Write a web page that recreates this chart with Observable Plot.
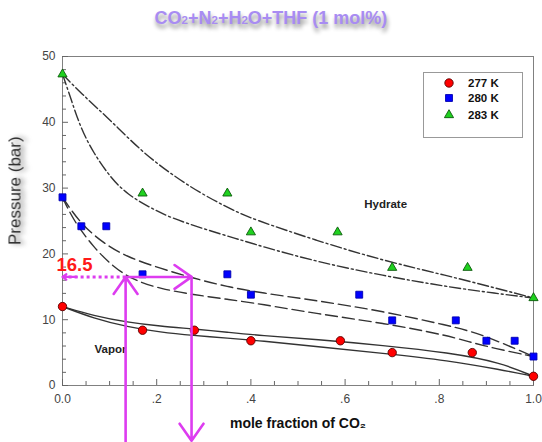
<!DOCTYPE html>
<html><head><meta charset="utf-8">
<script src="https://cdn.jsdelivr.net/npm/d3@7"></script>
<script src="https://cdn.jsdelivr.net/npm/@observablehq/plot@0.6"></script>
<style>
body{margin:0;background:#fff;font-family:"Liberation Sans",Arial,sans-serif;}
#wrap{position:relative;width:542px;height:442px;overflow:hidden;}
#chart{position:absolute;left:0;top:0;}
#title{position:absolute;left:0;top:8px;width:542px;text-align:center;font-weight:bold;font-size:18px;color:#a88cf2;text-shadow:1px 4px 4px rgba(0,0,0,0.45);}
#title sub{font-size:11.5px;vertical-align:baseline;}
#legend{position:absolute;left:423px;top:72px;width:98px;height:64px;border:1px solid #999;background:#fff;}
.lrow{position:absolute;left:0;height:14px;font-weight:bold;font-size:11.5px;color:#111;}
.lrow svg{position:absolute;left:18px;top:0;}
.lrow span{position:absolute;left:44px;top:0;line-height:14px;white-space:nowrap;}
</style>
</head><body>
<div id="wrap"><div id="chart"></div>
<div id="title">CO<sub>2</sub>+N<sub>2</sub>+H<sub>2</sub>O+THF (1 mol%)</div>
<div id="legend"></div></div>
<script>
// ---- data ----
const temps = ["277 K", "280 K", "283 K"];
const x277 = [0, 0.17, 0.28, 0.40, 0.59, 0.70, 0.87, 1.0];
const p277 = [12.0, 8.4, 8.4, 6.8, 6.8, 5.0, 5.0, 1.4];
const x280 = [0, 0.04, 0.093, 0.17, 0.35, 0.40, 0.63, 0.70, 0.835, 0.90, 0.96, 1.0];
const p280 = [28.6, 24.2, 24.2, 16.9, 16.9, 13.8, 13.8, 9.9, 9.9, 6.8, 6.8, 4.4];
const x283 = [0, 0.17, 0.35, 0.40, 0.584, 0.70, 0.86, 1.0];
const p283 = [47.3, 29.2, 29.2, 23.3, 23.3, 17.9, 17.9, 13.3];

// model curves
const c283aX = [0, 0.038, 0.102, 0.166, 0.229, 0.293, 0.363, 0.40, 0.54, 0.68, 0.817, 0.92, 1.0];
const c283aP = [47.3, 44.5, 40.3, 35.7, 32.2, 29.2, 26.6, 25.4, 22.0, 19.0, 16.7, 14.8, 13.3];
const c283bX = [0, 0.017, 0.038, 0.066, 0.102, 0.138, 0.187, 0.229, 0.30, 0.37, 0.42, 0.54, 0.68, 0.817, 0.92, 1.0];
const c283bP = [47.3, 43.8, 39.2, 35.3, 31.6, 29.0, 27.0, 25.5, 23.8, 22.3, 21.2, 18.8, 16.7, 15.0, 14.0, 13.3];
const c280aX = [0, 0.038, 0.087, 0.138, 0.208, 0.278, 0.35, 0.42, 0.54, 0.68, 0.82, 0.887, 1.0];
const c280aP = [28.6, 24.6, 21.6, 19.5, 17.8, 16.3, 15.0, 14.1, 12.9, 11.3, 9.1, 7.9, 4.4];
const c280bX = [0, 0.023, 0.066, 0.108, 0.151, 0.208, 0.278, 0.35, 0.42, 0.54, 0.68, 0.82, 0.887, 1.0];
const c280bP = [28.6, 25.1, 21.0, 18.0, 16.0, 14.7, 13.8, 13.1, 12.4, 10.9, 9.5, 7.6, 6.1, 4.4];
const c277X = [0, 0.066, 0.138, 0.208, 0.278, 0.35, 0.42, 0.54, 0.68, 0.82, 0.93, 1.0];
const c277aP = [12.0, 10.6, 9.6, 9.0, 8.6, 8.1, 7.6, 7.0, 6.1, 5.0, 3.5, 1.4];
const c277bP = [12.0, 10.2, 8.9, 8.1, 7.6, 7.2, 6.8, 5.9, 4.9, 3.8, 2.4, 1.4];

const xMajor = [0, 0.2, 0.4, 0.6, 0.8, 1.0];
const xMinor = [0.05,0.1,0.15,0.25,0.3,0.35,0.45,0.5,0.55,0.65,0.7,0.75,0.85,0.9,0.95];
const yMajor = [0, 10, 20, 30, 40, 50];
const yMinor = [2,4,6,8,12,14,16,18,22,24,26,28,32,34,36,38,42,44,46,48];
const xTickLabels = ["0.0", ".2", ".4", ".6", ".8", "1.0"];

const guideP = 16.5;          // read-off pressure
const guideX = [0.134, 0.274]; // read-off compositions
const guideBottom = [-9.2, -8.4];
const regionLabels = [{text: "Hydrate", x: 0.686, y: 27.5}, {text: "Vapor", x: 0.102, y: 5.5}];

// ---- build tables ----
const zip = (xs, ys, extra) => xs.map((x, i) => ({x, y: ys[i], ...extra}));
const pts = [
  ...zip(x277, p277, {t: temps[0]}),
  ...zip(x280, p280, {t: temps[1]}),
  ...zip(x283, p283, {t: temps[2]})
];
const curves = [
  {id: "283a", dash: "11,3,2,3", d: zip(c283aX, c283aP)},
  {id: "283b", dash: "11,3,2,3", d: zip(c283bX, c283bP)},
  {id: "280a", dash: "12,5", d: zip(c280aX, c280aP)},
  {id: "280b", dash: "12,5", d: zip(c280bX, c280bP)},
  {id: "277a", dash: null, d: zip(c277X, c277aP)},
  {id: "277b", dash: null, d: zip(c277X, c277bP)}
];
const sym = {"277 K": "circle", "280 K": "square", "283 K": "triangle"};
const fillC = {"277 K": "#ff0000", "280 K": "#0000ff", "283 K": "#1fd11f"};
const strokeC = {"277 K": "#5a0000", "280 K": "#0000b0", "283 K": "#0a5a0a"};
const rr = {"277 K": 4.2, "280 K": 3.9, "283 K": 3.4};

const magenta = "#dd3cf0";
const arrows = [
  {x1: guideX[0], y1: guideP, x2: guideX[1], y2: guideP},
  {x1: guideX[0], y1: guideBottom[0], x2: guideX[0], y2: guideP},
  {x1: guideX[1], y1: guideP, x2: guideX[1], y2: guideBottom[1]}
];

const curveMarks = curves.map(c => Plot.line(c.d, {
  x: "x", y: "y", curve: "basis", stroke: "#333", strokeWidth: 1.4,
  strokeDasharray: c.dash || undefined
}));

const dotMarks = temps.map(t => Plot.dot(pts.filter(d => d.t === t), {
  x: "x", y: "y", symbol: sym[t], r: rr[t], fill: fillC[t], stroke: strokeC[t], strokeWidth: 0.9
}));

const chart = Plot.plot({
  width: 542, height: 442,
  marginTop: 56, marginBottom: 57, marginLeft: 62, marginRight: 9,
  x: {domain: [0, 1]},
  y: {domain: [0, 50]},
  style: {fontFamily: "'Liberation Sans', Arial, sans-serif", background: "transparent", overflow: "visible"},
  marks: [
    Plot.frame({stroke: "#808080"}),
    Plot.axisX(xMajor, {tickSize: -6, fill: "none", stroke: "#666"}),
    Plot.axisX(xMinor, {tickSize: -4, fill: "none", stroke: "#666"}),
    Plot.axisX(xMajor, {tickSize: 0, tickPadding: 9, stroke: "none", label: null, fill: "#444", fontSize: 12,
      tickFormat: d => xTickLabels[xMajor.indexOf(d)]}),
    Plot.axisY(yMajor, {tickSize: -6, fill: "none", stroke: "#666"}),
    Plot.axisY(yMinor, {tickSize: -4, fill: "none", stroke: "#666"}),
    Plot.axisY(yMajor, {tickSize: 0, tickPadding: 7, stroke: "none", label: null, fill: "#444", fontSize: 12}),
    ...curveMarks,
    Plot.text(regionLabels, {x: "x", y: "y", text: "text", fontWeight: "bold", fontSize: 11.5, fill: "#222"}),
    ...dotMarks,
    // read-off guides
    Plot.link([guideP], {x1: guideX[0], x2: 0.012, y1: d => d, y2: d => d, stroke: magenta, strokeWidth: 3, strokeDasharray: "3,3"}),
    Plot.arrow([guideP], {x1: 0.03, x2: 0, y1: d => d, y2: d => d, stroke: magenta, strokeWidth: 2.2, headLength: 11, headAngle: 70}),
    Plot.arrow(arrows, {x1: "x1", y1: "y1", x2: "x2", y2: "y2", stroke: magenta, strokeWidth: 2.6, headLength: 12, headAngle: 70}),
    Plot.text([guideP], {x: 0, y: d => d, text: d => d.toFixed(1), textAnchor: "start", dx: -6, dy: -12,
      fill: "#ff1a1a", fontWeight: "bold", fontSize: 18.5}),
    // axis titles
    Plot.text(["Pressure (bar)"], {frameAnchor: "left", rotate: -90, dx: -47, dy: 24, fontSize: 17, fill: "#333"}),
    Plot.text(["mole fraction of CO₂"], {frameAnchor: "bottom", dy: 42, fontSize: 14, fontWeight: "bold", fill: "#111"})
  ]
});
document.getElementById("chart").appendChild(chart);

// soft shadow on the y title
const svg = d3.select(chart);
const defs = svg.append("defs");
const f = defs.append("filter").attr("id", "ysh").attr("x", "-20%").attr("y", "-50%").attr("width", "140%").attr("height", "250%");
f.append("feGaussianBlur").attr("in", "SourceAlpha").attr("stdDeviation", 2.5).attr("result", "b");
f.append("feOffset").attr("in", "b").attr("dx", 0).attr("dy", 4).attr("result", "o");
f.append("feComponentTransfer").attr("in", "o").attr("result", "o2").append("feFuncA").attr("type", "linear").attr("slope", 0.5);
const m = f.append("feMerge"); m.append("feMergeNode").attr("in", "o2"); m.append("feMergeNode").attr("in", "SourceGraphic");
svg.selectAll("text").filter(function(){ return this.textContent === "Pressure (bar)"; }).attr("filter", "url(#ysh)");

// legend
const leg = d3.select("#legend");
const rowTop = [10, 25, 42];
temps.forEach((t, i) => {
  const row = leg.append("div").attr("class", "lrow").style("top", (rowTop[i] - 7) + "px").style("width", "98px");
  const s = row.append("svg").attr("width", 14).attr("height", 14);
  s.append("path").attr("transform", "translate(7,7)")
    .attr("d", d3.symbol(sym[t] === "circle" ? d3.symbolCircle : sym[t] === "square" ? d3.symbolSquare : d3.symbolTriangle, Math.PI * rr[t] * rr[t])())
    .attr("fill", fillC[t]).attr("stroke", strokeC[t]).attr("stroke-width", 0.9);
  row.append("span").text(t);
});
</script>
</body></html>
